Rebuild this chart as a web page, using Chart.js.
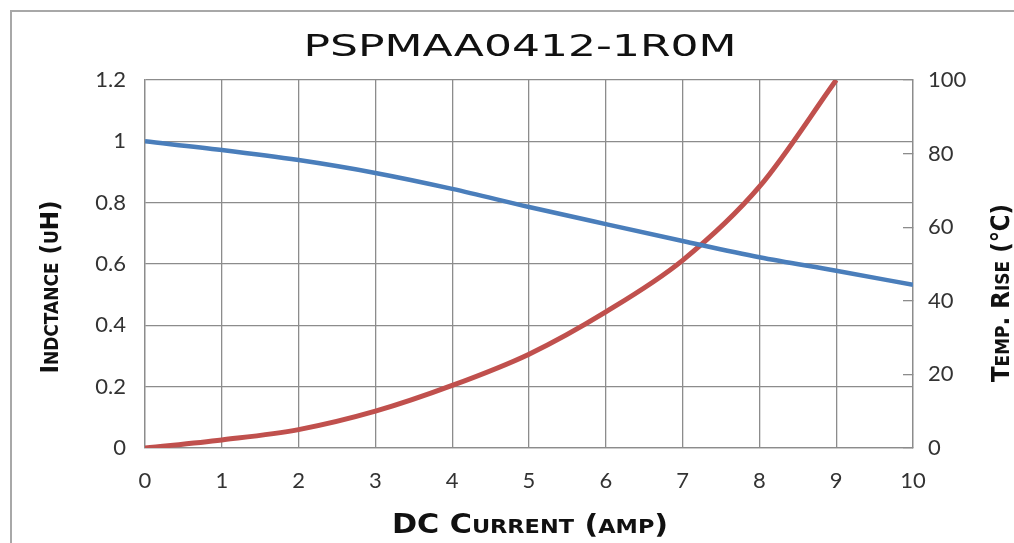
<!DOCTYPE html>
<html>
<head>
	<title>PSPMAA0412-1R0M</title>
	<style>
		html, body { margin: 0; padding: 0; background: #fff; overflow: hidden; }
		#frame { position: absolute; left: 10px; top: 10px; width: 1010px; height: 540px; border-left: 2px solid #a8a8a8; border-top: 2px solid #a8a8a8; }
		#box { position: absolute; left: 0; top: 0; width: 1014px; height: 543px; }
	</style>
	<script src="https://cdn.jsdelivr.net/npm/chart.js@4/dist/chart.umd.min.js"></script>
</head>
<body>
	<div id="frame"></div>
	<div id="box"><canvas id="chart1"></canvas></div>
	<script>
		const chartTitle = 'PSPMAA0412-1R0M';
		const xTitle = 'DC Current (amp)';
		const leftTitle = 'Indctance (uH)';
		const rightTitle = 'Temp. Rise (℃)';

		// inductance curve, read at every amp
		const currents = [0, 1, 2, 3, 4, 5, 6, 7, 8, 9, 10];
		const inductance = [1.0, 0.972, 0.939, 0.897, 0.845, 0.786, 0.730, 0.675, 0.622, 0.578, 0.532];

		// temperature rise, leaves the chart at 100 near 9 A
		const tempCurrents = [0, 1, 2, 3, 4, 5, 6, 7, 8, 9];
		const tempRise = [0, 2.2, 5, 10, 17, 25.5, 37, 51, 71, 100];

		const xTicks = [0, 1, 2, 3, 4, 5, 6, 7, 8, 9, 10];
		const leftTicks = [0, 0.2, 0.4, 0.6, 0.8, 1, 1.2];
		const rightTicks = [0, 20, 40, 60, 80, 100];

		const gridColor = '#8c8c8c';
		const tickFont = { family: 'Lato', size: 22 };

		// small caps: lower case letters drawn as smaller capitals
		function drawCaps(ctx, text, x, y, angle, big, small, weight, sx, sy) {
			const runs = [];
			for (const ch of text) {
				const low = ch !== ch.toUpperCase();
				const size = low ? small : big;
				const c = low ? ch.toUpperCase() : ch;
				const last = runs[runs.length - 1];
				if (last && last.size === size) last.text += c;
				else runs.push({ text: c, size: size });
			}
			let total = 0;
			runs.forEach(r => {
				ctx.font = weight + ' ' + r.size + 'px "DejaVu Sans"';
				r.w = ctx.measureText(r.text).width;
				total += r.w;
			});
			ctx.save();
			ctx.translate(x, y);
			ctx.rotate(angle);
			ctx.scale(sx, sy);
			ctx.fillStyle = '#111';
			ctx.textAlign = 'left';
			ctx.textBaseline = 'alphabetic';
			let px = -total / 2;
			runs.forEach(r => {
				ctx.font = weight + ' ' + r.size + 'px "DejaVu Sans"';
				ctx.fillText(r.text, px, big * 0.365);
				px += r.w;
			});
			ctx.restore();
		}

		const titlesPlugin = {
			id: 'titles',
			afterDraw(chart) {
				const ctx = chart.ctx;
				drawCaps(ctx, chartTitle, 520, 45, 0, 31, 31, 'normal', 1.42, 1);
				drawCaps(ctx, xTitle, 530, 523, 0, 27, 20, 'bold', 1.12, 1);
				drawCaps(ctx, leftTitle, 49, 287, -Math.PI / 2, 23, 17, 'bold', 1, 1.1);
				drawCaps(ctx, rightTitle, 1000, 293, -Math.PI / 2, 23, 17, 'bold', 1, 1.1);
			}
		};

		let ctx = document.getElementById('chart1').getContext('2d');
		let chart = new Chart(ctx, {
			type: 'line',
			data: {
				datasets: [
					{
						label: 'Inductance',
						data: currents.map((c, i) => ({ x: c, y: inductance[i] })),
						borderColor: '#4a7ebb',
						backgroundColor: 'transparent',
						borderWidth: 4.5,
						pointRadius: 0,
						cubicInterpolationMode: 'monotone',
						yAxisID: 'y'
					},
					{
						label: 'Temp. Rise',
						data: tempCurrents.map((c, i) => ({ x: c, y: tempRise[i] })),
						borderColor: '#c0504d',
						backgroundColor: 'transparent',
						borderWidth: 5,
						pointRadius: 0,
						cubicInterpolationMode: 'monotone',
						yAxisID: 'y2'
					}
				]
			},
			options: {
				responsive: true,
				maintainAspectRatio: false,
				animation: false,
				layout: { padding: { top: 80, left: 0, right: 0, bottom: 0 } },
				plugins: {
					legend: { display: false },
					title: { display: false },
					tooltip: { enabled: false }
				},
				scales: {
					x: {
						type: 'linear',
						min: 0,
						max: 10,
						afterBuildTicks: s => { s.ticks = xTicks.map(v => ({ value: v })); },
						afterFit: s => { s.height = 95; },
						grid: { color: gridColor, lineWidth: 1.3, drawTicks: false },
						border: { color: gridColor, width: 1.3 },
						ticks: { font: tickFont, color: '#333', padding: 20, maxRotation: 0, callback: v => String(v) }
					},
					y: {
						position: 'left',
						min: 0,
						max: 1.2,
						afterBuildTicks: s => { s.ticks = leftTicks.map(v => ({ value: v })); },
						afterFit: s => { s.width = 145; },
						grid: { color: gridColor, lineWidth: 1.3, drawTicks: false },
						border: { color: gridColor, width: 1.3 },
						ticks: { font: tickFont, color: '#333', padding: 19, callback: v => String(v) }
					},
					y2: {
						position: 'right',
						min: 0,
						max: 100,
						afterBuildTicks: s => { s.ticks = rightTicks.map(v => ({ value: v })); },
						afterFit: s => { s.width = 101; },
						grid: { color: gridColor, lineWidth: 1.3, drawOnChartArea: false, drawTicks: true, tickLength: -10 },
						border: { color: gridColor, width: 1.3 },
						ticks: { font: tickFont, color: '#333', padding: 25, callback: v => String(v) }
					}
				}
			},
			plugins: [titlesPlugin]
		});
	</script>
</body>
</html>
